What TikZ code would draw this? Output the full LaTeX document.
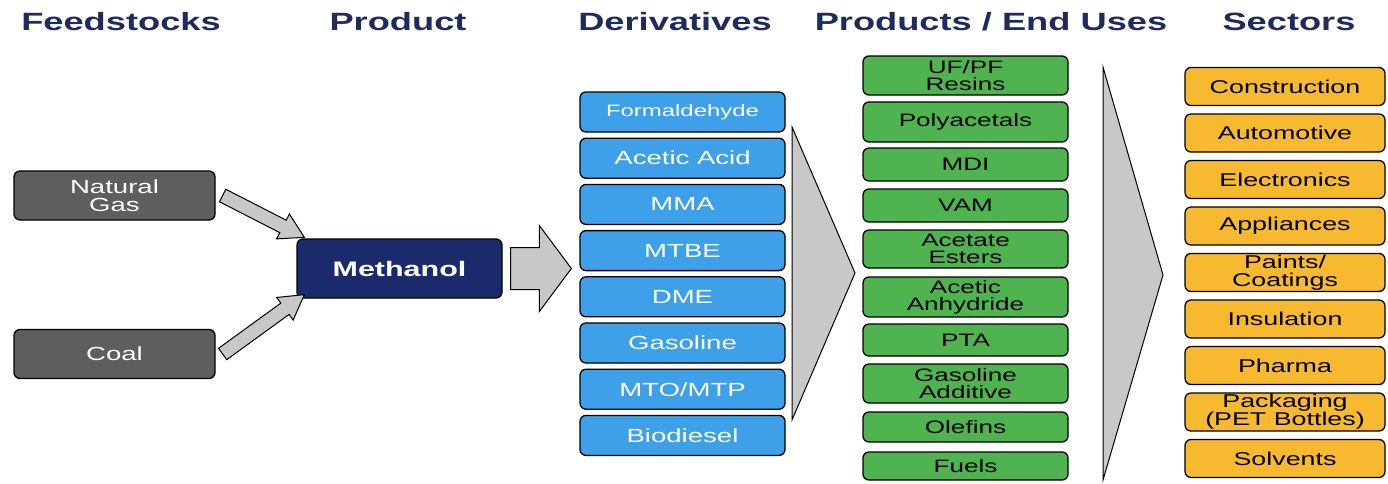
\documentclass[tikz,border=0pt]{standalone}
\usepackage{fontspec}
\setmainfont{Liberation Sans}[FakeStretch=1.45]
\usetikzlibrary{calc}

\definecolor{headblue}{HTML}{1E2B5F}
\definecolor{feedgray}{HTML}{5E5E5E}
\definecolor{methblue}{HTML}{1B2A6B}
\definecolor{derivblue}{HTML}{3DA0E8}
\definecolor{endgreen}{HTML}{4FB44F}
\definecolor{sectorgold}{HTML}{F6B92F}
\definecolor{flowgray}{HTML}{C8C8C8}

% block arrow: tail, tip, shaft half width, head half width, head length
\newcommand\fatarrow[5]{%
  \coordinate (fa-h) at ($(#2)!#5!(#1)$);
  \filldraw[flowarrow]
    ($(#1)!#3!90:(#2)$) -- ($(fa-h)!#3!90:(#2)$) -- ($(fa-h)!#4!90:(#2)$)
    -- (#2) -- ($(fa-h)!#4!-90:(#2)$) -- ($(fa-h)!#3!-90:(#2)$)
    -- ($(#1)!#3!-90:(#2)$) -- cycle;
}

\begin{document}
\begin{tikzpicture}[
  x=1pt, y=-1pt,
  heading/.style={
    text=headblue,
    font=\fontsize{25}{27}\selectfont\bfseries
  },
  box/.style={
    draw=black,
    line width=1.3pt,
    rounded corners=6pt,
    minimum width=205pt,
    minimum height=40pt,
    inner sep=0pt,
    align=center,
    font=\fontsize{19}{19}\selectfont
  },
  feed/.style={
    box,
    fill=feedgray,
    text=white,
    minimum width=201pt,
    minimum height=49pt
  },
  meth/.style={
    box,
    fill=methblue,
    text=white,
    minimum height=59pt,
    font=\fontsize{21}{21}\selectfont\bfseries
  },
  deriv/.style={
    box,
    fill=derivblue,
    text=white
  },
  enduse/.style={
    box,
    fill=endgreen,
    text=black,
    font=\fontsize{18}{17}\selectfont
  },
  sector/.style={
    box,
    fill=sectorgold,
    text=black,
    minimum width=200pt,
    minimum height=38pt,
    font=\fontsize{18.5}{18}\selectfont
  },
  flowarrow/.style={
    draw=black,
    fill=flowgray,
    line width=1pt
  },
]
\useasboundingbox (0,0) rectangle (1388,483);

% column headings
\node[heading] (h-feed)  at (121,22)  {Feedstocks};
\node[heading] (h-prod)  at (398,22)  {Product};
\node[heading] (h-deriv) at (675,22)  {Derivatives};
\node[heading] (h-use)   at (991,22)  {Products / End Uses};
\node[heading] (h-sect)  at (1289,22) {Sectors};

% feedstocks and methanol
\node[feed] (natgas) at (114.5,195.5) {Natural\\[-1pt]Gas};
\node[feed] (coal)   at (114.5,354)   {Coal};
\node[meth] (meth)   at (399.5,268.5) {Methanol};

% derivatives
\foreach \t/\s [count=\i from 0] in {Formaldehyde/16.5,{Acetic Acid}/19,MMA/19,MTBE/19,
    DME/19,Gasoline/19,{MTO/MTP}/19,Biodiesel/19}
  \node[deriv, font=\fontsize{\s}{\s}\selectfont] (deriv-\i) at (682.5,112+46.2*\i) {\t};

% products / end uses
\foreach \y/\h/\t [count=\i] in {
    75.5/39/{UF/PF\\Resins},
    122/40/Polyacetals,
    164.5/33/MDI,
    205.5/33/VAM,
    249/38/{Acetate\\Esters},
    297/40/{Acetic\\Anhydride},
    340/32/PTA,
    383.5/39/{Gasoline\\Additive},
    427/30/Olefins,
    466/28/Fuels}
  \node[enduse, minimum height=\h pt] (use-\i) at (965.5,\y) {\t};

% sectors
\foreach \t [count=\i from 0] in {Construction,Automotive,Electronics,Appliances,
    {Paints/\\Coatings},Insulation,Pharma,{Packaging\\(PET Bottles)},Solvents}
  \node[sector] (sect-\i) at (1285,86.5+46.5*\i) {\t};

% flow arrows
\coordinate (ng-tail) at ([xshift=7pt]natgas.east);
\coordinate (ng-tip)  at ([shift={(8,-1)}]meth.north west);
\coordinate (cl-tail) at ([xshift=7pt]coal.east);
\coordinate (cl-tip)  at ([shift={(8,-4)}]meth.south west);
\coordinate (m-tail)  at ([xshift=8pt]meth.east);
\coordinate (m-tip)   at ([xshift=-8pt]m-tail -| deriv-0.west);
\fatarrow{ng-tail}{ng-tip}{7pt}{14pt}{24pt}
\fatarrow{cl-tail}{cl-tip}{7pt}{14pt}{24pt}
\fatarrow{m-tail}{m-tip}{21pt}{43pt}{32pt}

% funnels between columns
\filldraw[flowarrow] (792,127) -- (855,273) -- (792,420) -- cycle;
\filldraw[flowarrow] (1103,67) -- (1163,275) -- (1103,480) -- cycle;
\end{tikzpicture}
\end{document}
